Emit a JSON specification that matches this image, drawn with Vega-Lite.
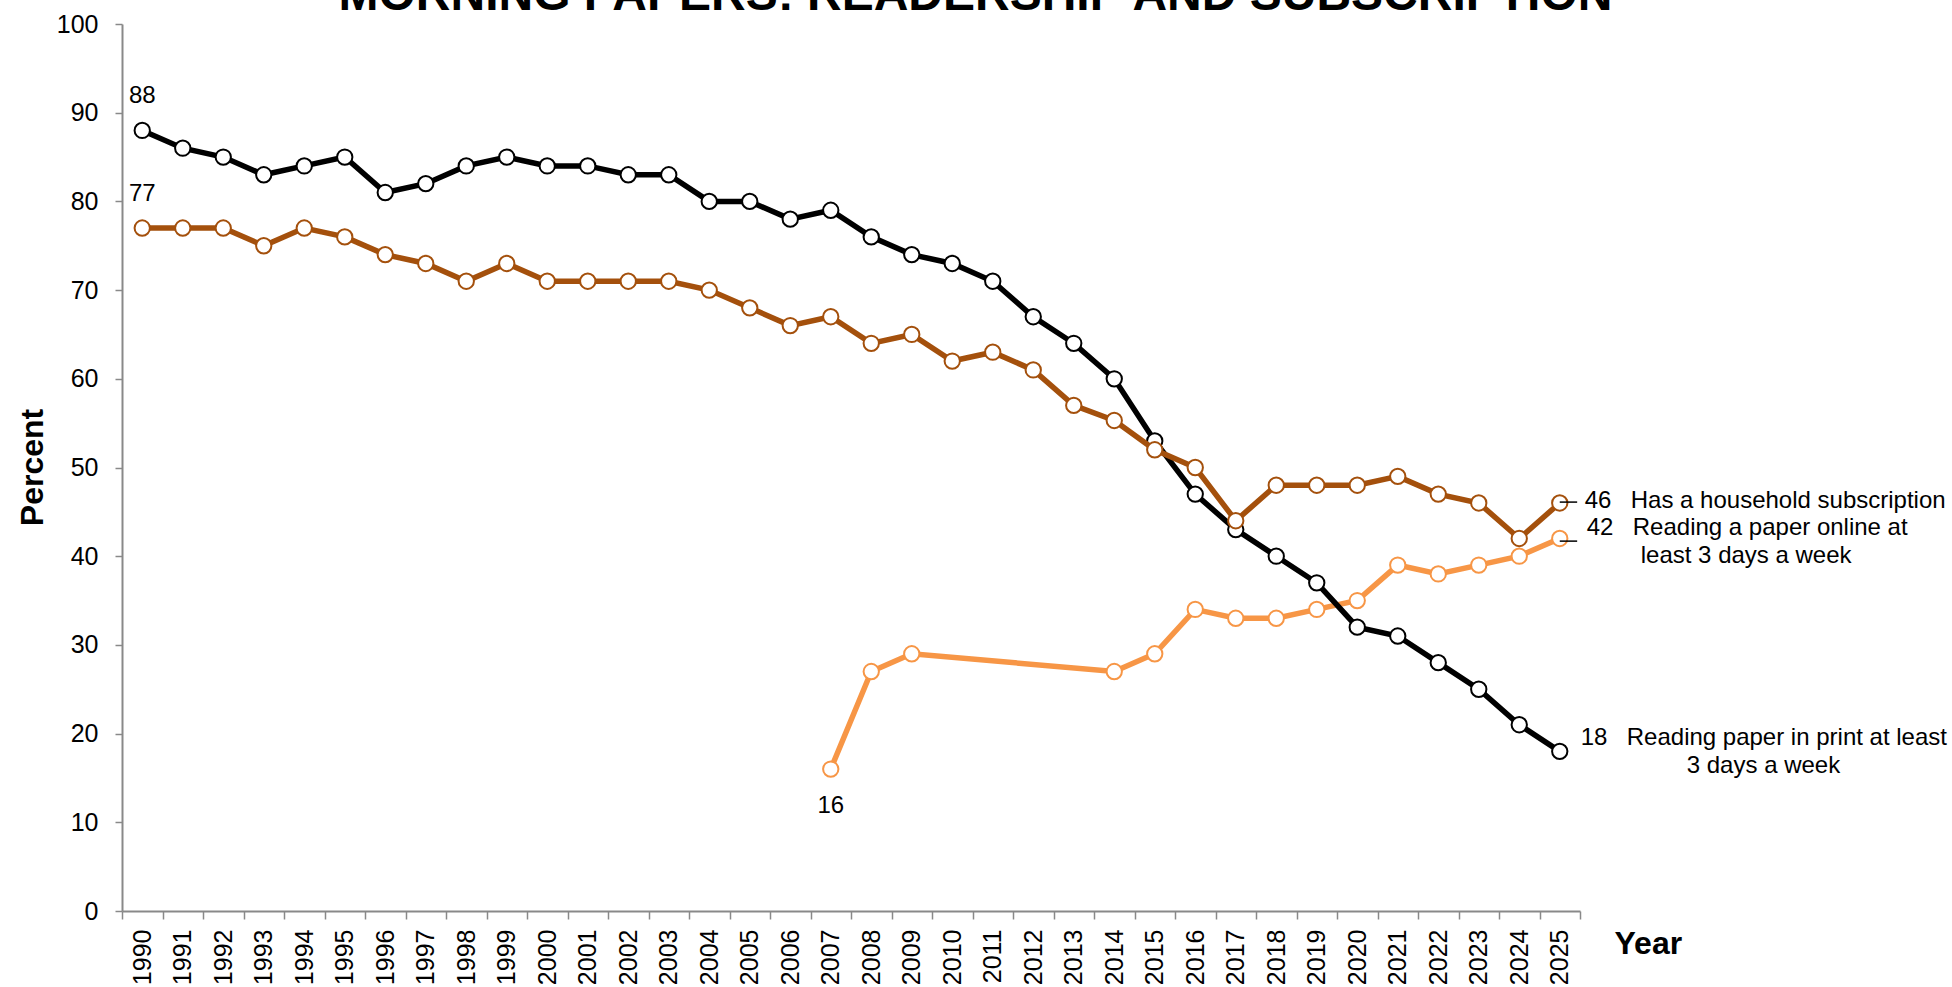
{
  "$schema": "https://vega.github.io/schema/vega-lite/v6.json",
  "width": 1458,
  "height": 887,
  "autosize": {"type": "none"},
  "padding": {"left": 122, "top": 24, "right": 372, "bottom": 76},
  "background": "white",
  "config": {"view": {"stroke": null}, "font": "Liberation Sans", "text": {"font": "Liberation Sans"}},
  "title": {
    "text": "MORNING PAPERS: READERSHIP AND SUBSCRIPTION",
    "font": "Liberation Sans",
    "fontSize": 48,
    "fontWeight": "bold",
    "color": "black",
    "anchor": "middle",
    "frame": "bounds",
    "baseline": "alphabetic",
    "offset": -46,
    "dx": -6
  },
  "datasets": {
    "main": [
      {"year": 1990, "series": "print", "value": 88},
      {"year": 1991, "series": "print", "value": 86},
      {"year": 1992, "series": "print", "value": 85},
      {"year": 1993, "series": "print", "value": 83},
      {"year": 1994, "series": "print", "value": 84},
      {"year": 1995, "series": "print", "value": 85},
      {"year": 1996, "series": "print", "value": 81},
      {"year": 1997, "series": "print", "value": 82},
      {"year": 1998, "series": "print", "value": 84},
      {"year": 1999, "series": "print", "value": 85},
      {"year": 2000, "series": "print", "value": 84},
      {"year": 2001, "series": "print", "value": 84},
      {"year": 2002, "series": "print", "value": 83},
      {"year": 2003, "series": "print", "value": 83},
      {"year": 2004, "series": "print", "value": 80},
      {"year": 2005, "series": "print", "value": 80},
      {"year": 2006, "series": "print", "value": 78},
      {"year": 2007, "series": "print", "value": 79},
      {"year": 2008, "series": "print", "value": 76},
      {"year": 2009, "series": "print", "value": 74},
      {"year": 2010, "series": "print", "value": 73},
      {"year": 2011, "series": "print", "value": 71},
      {"year": 2012, "series": "print", "value": 67},
      {"year": 2013, "series": "print", "value": 64},
      {"year": 2014, "series": "print", "value": 60},
      {"year": 2015, "series": "print", "value": 53},
      {"year": 2016, "series": "print", "value": 47},
      {"year": 2017, "series": "print", "value": 43},
      {"year": 2018, "series": "print", "value": 40},
      {"year": 2019, "series": "print", "value": 37},
      {"year": 2020, "series": "print", "value": 32},
      {"year": 2021, "series": "print", "value": 31},
      {"year": 2022, "series": "print", "value": 28},
      {"year": 2023, "series": "print", "value": 25},
      {"year": 2024, "series": "print", "value": 21},
      {"year": 2025, "series": "print", "value": 18},
      {"year": 1990, "series": "subscription", "value": 77},
      {"year": 1991, "series": "subscription", "value": 77},
      {"year": 1992, "series": "subscription", "value": 77},
      {"year": 1993, "series": "subscription", "value": 75},
      {"year": 1994, "series": "subscription", "value": 77},
      {"year": 1995, "series": "subscription", "value": 76},
      {"year": 1996, "series": "subscription", "value": 74},
      {"year": 1997, "series": "subscription", "value": 73},
      {"year": 1998, "series": "subscription", "value": 71},
      {"year": 1999, "series": "subscription", "value": 73},
      {"year": 2000, "series": "subscription", "value": 71},
      {"year": 2001, "series": "subscription", "value": 71},
      {"year": 2002, "series": "subscription", "value": 71},
      {"year": 2003, "series": "subscription", "value": 71},
      {"year": 2004, "series": "subscription", "value": 70},
      {"year": 2005, "series": "subscription", "value": 68},
      {"year": 2006, "series": "subscription", "value": 66},
      {"year": 2007, "series": "subscription", "value": 67},
      {"year": 2008, "series": "subscription", "value": 64},
      {"year": 2009, "series": "subscription", "value": 65},
      {"year": 2010, "series": "subscription", "value": 62},
      {"year": 2011, "series": "subscription", "value": 63},
      {"year": 2012, "series": "subscription", "value": 61},
      {"year": 2013, "series": "subscription", "value": 57},
      {"year": 2014, "series": "subscription", "value": 55.3},
      {"year": 2015, "series": "subscription", "value": 52},
      {"year": 2016, "series": "subscription", "value": 50},
      {"year": 2017, "series": "subscription", "value": 44},
      {"year": 2018, "series": "subscription", "value": 48},
      {"year": 2019, "series": "subscription", "value": 48},
      {"year": 2020, "series": "subscription", "value": 48},
      {"year": 2021, "series": "subscription", "value": 49},
      {"year": 2022, "series": "subscription", "value": 47},
      {"year": 2023, "series": "subscription", "value": 46},
      {"year": 2024, "series": "subscription", "value": 42},
      {"year": 2025, "series": "subscription", "value": 46},
      {"year": 2007, "series": "online", "value": 16},
      {"year": 2008, "series": "online", "value": 27},
      {"year": 2009, "series": "online", "value": 29},
      {"year": 2014, "series": "online", "value": 27},
      {"year": 2015, "series": "online", "value": 29},
      {"year": 2016, "series": "online", "value": 34},
      {"year": 2017, "series": "online", "value": 33},
      {"year": 2018, "series": "online", "value": 33},
      {"year": 2019, "series": "online", "value": 34},
      {"year": 2020, "series": "online", "value": 35},
      {"year": 2021, "series": "online", "value": 39},
      {"year": 2022, "series": "online", "value": 38},
      {"year": 2023, "series": "online", "value": 39},
      {"year": 2024, "series": "online", "value": 40},
      {"year": 2025, "series": "online", "value": 42}
    ],
    "startLabels": [
      {"year": 1990, "value": 88, "label": "88"},
      {"year": 1990, "value": 77, "label": "77"}
    ],
    "firstOnline": [
      {"year": 2007, "value": 16, "label": "16"}
    ],
    "leaders": [
      {"year": 2025, "value": 46.1},
      {"year": 2025, "value": 41.7}
    ],
    "endSub": [
      {"year": 2025, "value": 46, "num": "46", "line1": "Has a household subscription"}
    ],
    "endOnline": [
      {"year": 2025, "value": 42, "num": "42", "line1": "Reading a paper online at", "line2": "least 3 days a week"}
    ],
    "endPrint": [
      {"year": 2025, "value": 18, "num": "18", "line1": "Reading paper in print at least", "line2": "3 days a week"}
    ]
  },
  "encoding": {
    "x": {
      "field": "year",
      "type": "ordinal",
      "bandPosition": 0.5,
      "scale": {
        "type": "band",
        "paddingInner": 0,
        "paddingOuter": 0,
        "domain": [1990, 1991, 1992, 1993, 1994, 1995, 1996, 1997, 1998, 1999, 2000, 2001, 2002, 2003, 2004, 2005, 2006, 2007, 2008, 2009, 2010, 2011, 2012, 2013, 2014, 2015, 2016, 2017, 2018, 2019, 2020, 2021, 2022, 2023, 2024, 2025]
      },
      "axis": {
        "title": "Year",
        "titleFont": "Liberation Sans",
        "titleFontSize": 32,
        "titleFontWeight": "bold",
        "titleColor": "black",
        "titleX": 1492,
        "titleY": 42,
        "titleAlign": "left",
        "titleAnchor": null,
        "titleBaseline": "alphabetic",
        "labelAngle": -90,
        "labelFont": "Liberation Sans",
        "labelFontSize": 25,
        "labelColor": "black",
        "labelPadding": 10,
        "labelAlign": "right",
        "labelBaseline": "middle",
        "tickBand": "extent",
        "tickSize": 8,
        "tickColor": "#898989",
        "tickWidth": 1.5,
        "domainColor": "#898989",
        "domainWidth": 2,
        "grid": false
      }
    },
    "y": {
      "field": "value",
      "type": "quantitative",
      "scale": {"domain": [0, 100], "nice": false, "zero": true},
      "axis": {
        "title": "Percent",
        "titleFont": "Liberation Sans",
        "titleFontSize": 32,
        "titleFontWeight": "bold",
        "titleColor": "black",
        "titleAngle": -90,
        "titleX": -80,
        "titleY": 443,
        "titleAlign": "center",
        "titleAnchor": null,
        "titleBaseline": "alphabetic",
        "values": [0, 10, 20, 30, 40, 50, 60, 70, 80, 90, 100],
        "labelFont": "Liberation Sans",
        "labelFontSize": 25,
        "labelColor": "black",
        "labelPadding": 17,
        "tickSize": 7,
        "tickColor": "#898989",
        "tickWidth": 1.5,
        "domainColor": "#898989",
        "domainWidth": 2,
        "grid": false
      }
    }
  },
  "layer": [
    {
      "data": {"name": "main"},
      "transform": [{"filter": "datum.series === 'online'"}],
      "mark": {"type": "line", "color": "#F79646", "strokeWidth": 5.5},
      "encoding": {}
    },
    {
      "data": {"name": "main"},
      "transform": [{"filter": "datum.series === 'online'"}],
      "mark": {"type": "point", "shape": "circle", "filled": true, "fill": "white", "stroke": "#F79646", "strokeWidth": 2, "size": 235, "opacity": 1},
      "encoding": {}
    },
    {
      "data": {"name": "main"},
      "transform": [{"filter": "datum.series === 'print'"}],
      "mark": {"type": "line", "color": "#000000", "strokeWidth": 5.5},
      "encoding": {}
    },
    {
      "data": {"name": "main"},
      "transform": [{"filter": "datum.series === 'print'"}],
      "mark": {"type": "point", "shape": "circle", "filled": true, "fill": "white", "stroke": "#000000", "strokeWidth": 2, "size": 235, "opacity": 1},
      "encoding": {}
    },
    {
      "data": {"name": "main"},
      "transform": [{"filter": "datum.series === 'subscription'"}],
      "mark": {"type": "line", "color": "#A4500C", "strokeWidth": 5.5},
      "encoding": {}
    },
    {
      "data": {"name": "main"},
      "transform": [{"filter": "datum.series === 'subscription'"}],
      "mark": {"type": "point", "shape": "circle", "filled": true, "fill": "white", "stroke": "#A4500C", "strokeWidth": 2, "size": 235, "opacity": 1},
      "encoding": {}
    },
    {
      "data": {"name": "leaders"},
      "mark": {"type": "rule", "color": "black", "strokeWidth": 1.5},
      "encoding": {
        "x2": {"field": "year", "bandPosition": 0.93}
      }
    },
    {
      "data": {"name": "startLabels"},
      "mark": {"type": "text", "fontSize": 24, "font": "Liberation Sans", "color": "black", "align": "center", "baseline": "alphabetic", "dy": -27},
      "encoding": {"text": {"field": "label"}}
    },
    {
      "data": {"name": "firstOnline"},
      "mark": {"type": "text", "fontSize": 24, "font": "Liberation Sans", "color": "black", "align": "center", "baseline": "alphabetic", "dy": 44},
      "encoding": {"text": {"field": "label"}}
    },
    {
      "data": {"name": "endSub"},
      "mark": {"type": "text", "fontSize": 24, "font": "Liberation Sans", "color": "black", "align": "left", "baseline": "alphabetic", "dx": 25, "dy": 5},
      "encoding": {"text": {"field": "num"}}
    },
    {
      "data": {"name": "endSub"},
      "mark": {"type": "text", "fontSize": 24, "font": "Liberation Sans", "color": "black", "align": "left", "baseline": "alphabetic", "dx": 71, "dy": 5},
      "encoding": {"text": {"field": "line1"}}
    },
    {
      "data": {"name": "endOnline"},
      "mark": {"type": "text", "fontSize": 24, "font": "Liberation Sans", "color": "black", "align": "left", "baseline": "alphabetic", "dx": 27, "dy": -3.5},
      "encoding": {"text": {"field": "num"}}
    },
    {
      "data": {"name": "endOnline"},
      "mark": {"type": "text", "fontSize": 24, "font": "Liberation Sans", "color": "black", "align": "left", "baseline": "alphabetic", "dx": 73, "dy": -3.5},
      "encoding": {"text": {"field": "line1"}}
    },
    {
      "data": {"name": "endOnline"},
      "mark": {"type": "text", "fontSize": 24, "font": "Liberation Sans", "color": "black", "align": "left", "baseline": "alphabetic", "dx": 81, "dy": 24.5},
      "encoding": {"text": {"field": "line2"}}
    },
    {
      "data": {"name": "endPrint"},
      "mark": {"type": "text", "fontSize": 24, "font": "Liberation Sans", "color": "black", "align": "left", "baseline": "alphabetic", "dx": 21, "dy": -6},
      "encoding": {"text": {"field": "num"}}
    },
    {
      "data": {"name": "endPrint"},
      "mark": {"type": "text", "fontSize": 24, "font": "Liberation Sans", "color": "black", "align": "left", "baseline": "alphabetic", "dx": 67, "dy": -6},
      "encoding": {"text": {"field": "line1"}}
    },
    {
      "data": {"name": "endPrint"},
      "mark": {"type": "text", "fontSize": 24, "font": "Liberation Sans", "color": "black", "align": "left", "baseline": "alphabetic", "dx": 127, "dy": 22},
      "encoding": {"text": {"field": "line2"}}
    }
  ]
}
